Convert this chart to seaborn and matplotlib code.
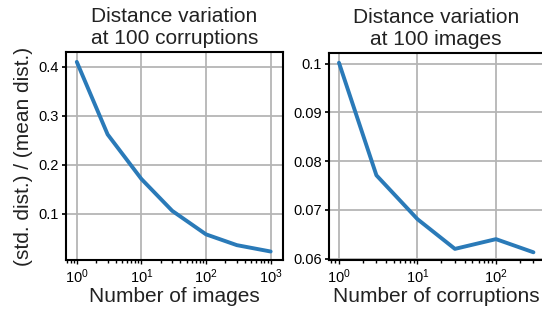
import numpy as np
import pandas as pd
import matplotlib
matplotlib.use("Agg")
import matplotlib.pyplot as plt
import matplotlib.ticker as mticker
import seaborn as sns

# Left panel: variation vs number of images (100 corruptions)
n_images = [1, 3, 10, 30, 100, 300, 1000]
ratio_images = [0.410, 0.262, 0.171, 0.106, 0.058, 0.036, 0.023]

# Right panel: variation vs number of corruptions (100 images)
n_corruptions = [1, 3, 10, 30, 100, 300]
ratio_corruptions = [0.1002, 0.0771, 0.0681, 0.0620, 0.0640, 0.0613]

titles = ["Distance variation\nat 100 corruptions", "Distance variation\nat 100 images"]
xlabels = ["Number of images", "Number of corruptions"]
ylabel = "(std. dist.) / (mean dist.)"

sns.set_theme(style="whitegrid")
plt.rcParams['font.family'] = ['Liberation Sans', 'DejaVu Sans']
plt.rcParams.update({
    "axes.edgecolor": "black",
    "axes.linewidth": 1.5,
    "grid.color": "#b5b5b5",
    "grid.linewidth": 1.3,
    "xtick.bottom": True,
    "ytick.left": True,
    "xtick.major.size": 3,
    "ytick.major.size": 3,
    "xtick.minor.size": 2.5,
    "xtick.major.width": 1,
    "xtick.minor.width": 1,
    "xtick.color": "black",
    "ytick.color": "black",
    "text.color": "#222222",
    "axes.labelcolor": "#222222",
})

fig = plt.figure(figsize=(5.42, 3.10), dpi=100)
ax1 = fig.add_axes([0.122, 0.161, 0.400, 0.671])
ax2 = fig.add_axes([0.607, 0.161, 0.395, 0.668])

df1 = pd.DataFrame({"x": n_images, "y": ratio_images})
df2 = pd.DataFrame({"x": n_corruptions, "y": ratio_corruptions})

sns.lineplot(data=df1, x="x", y="y", ax=ax1, color="#2a7ab8", linewidth=2.8)
sns.lineplot(data=df2, x="x", y="y", ax=ax2, color="#2a7ab8", linewidth=2.8)

for ax, t, xl in zip([ax1, ax2], titles, xlabels):
    ax.set_xscale("log")
    ax.set_title(t, fontsize=15, pad=6, linespacing=1.2)
    ax.set_xlabel(xl, fontsize=15, labelpad=1)
    ax.xaxis.set_minor_locator(mticker.LogLocator(base=10, subs=np.arange(2, 10), numticks=20))
    ax.xaxis.set_minor_formatter(mticker.NullFormatter())
    ax.tick_params(axis="both", labelsize=10.5, pad=2)
    ax.tick_params(axis="x", which="minor", bottom=True, length=2.5, width=1, color="black")

ax1.set_xlim(10 ** -0.165, 10 ** 3.19)
ax1.set_ylim(0.0055, 0.43)
ax1.set_yticks([0.1, 0.2, 0.3, 0.4])
ax1.set_xticks([1, 10, 100, 1000])
ax1.set_ylabel(ylabel, fontsize=15, labelpad=4)

ax2.set_xlim(10 ** -0.127, 10 ** 2.6)
ax2.set_ylim(0.0597, 0.1022)
ax2.set_yticks([0.06, 0.07, 0.08, 0.09, 0.1])
ax2.set_yticklabels(["0.06", "0.07", "0.08", "0.09", "0.1"])
ax2.set_xticks([1, 10, 100])
ax2.set_ylabel("")

fig.savefig("out.png", dpi=100)
